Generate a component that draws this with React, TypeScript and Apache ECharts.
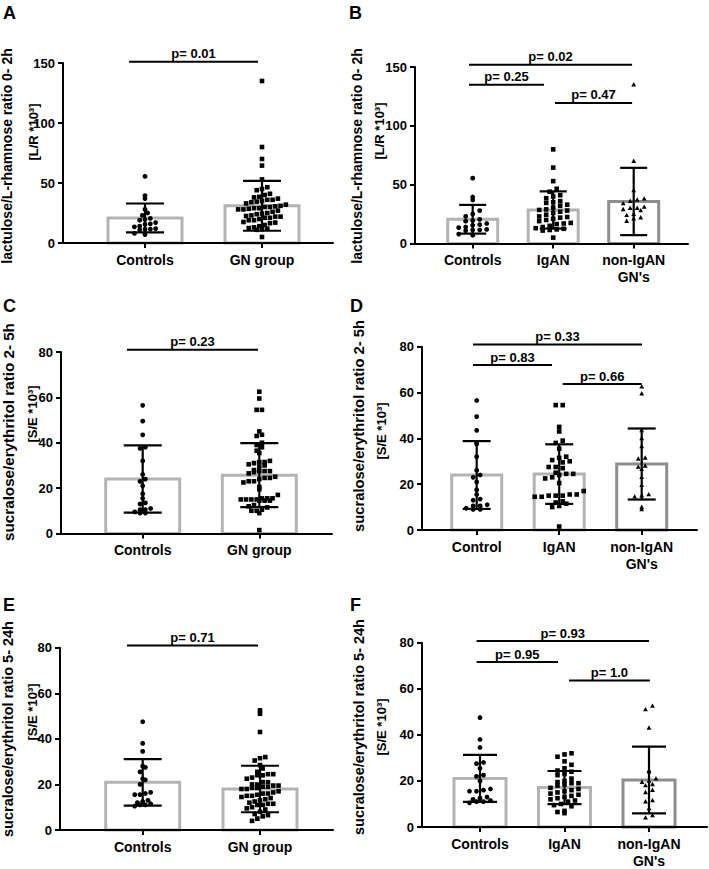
import React, { useEffect, useRef } from 'react';
import * as echarts from 'echarts';

// ---------------- data ----------------
// lactulose / L-rhamnose ratio 0-2h
const ctrlLR = [55.5, 39.5, 37, 28, 25, 23, 20.5, 19.5, 19, 17, 16, 15.5, 14, 13.5, 12, 11.5, 11.5, 11, 8, 7];
const igaLR = [80, 64.5, 53, 46.5, 44, 41, 40, 38.5, 36, 35, 34.5, 33, 32, 30.5, 29, 28.5, 28, 27, 26, 24.5, 23, 22.5, 22, 21, 20, 19, 17.5, 17, 16.5, 15, 14, 13, 12.5, 12, 11.5, 11, 5];
const nonLR = [135, 70, 45, 38, 37, 36, 34, 31, 30, 30, 29, 28, 25, 24, 22, 21, 19];
// sucralose / erythritol ratio 2-5h
const ctrlSE25 = [56.5, 49.5, 43.5, 38, 37.5, 32, 26, 24, 23, 21, 17.5, 15.5, 13.5, 13, 11, 10.5, 10.5, 9.5, 9, 9];
const igaSE25 = [54.5, 54.5, 45, 43, 39, 38, 35.5, 32, 31.5, 30.5, 30, 29.5, 27.5, 27.5, 27, 25, 24.5, 24.5, 24, 23, 22.5, 20.5, 17, 15.5, 15.5, 15, 15, 15, 14.5, 14.5, 12.5, 12, 11.5, 10.5, 10, 1.5];
const nonSE25 = [62.5, 59.5, 43.5, 40, 36.5, 31.5, 31, 28, 27.5, 26.5, 23, 19.5, 15.5, 15, 14.5, 10, 9];
// sucralose / erythritol ratio 5-24h
const ctrlSE524 = [47.5, 38, 34.5, 28, 27.5, 25.5, 22.5, 22, 20, 16.5, 16, 15.5, 15.5, 13, 12.5, 12, 11.5, 11, 11, 10.5];
const igaSE524 = [32, 31.5, 30.5, 28.5, 27, 25.5, 24.5, 24, 23, 22.5, 21, 20, 19.5, 19, 19, 18.5, 18, 17, 16.5, 16, 15.5, 15, 14.5, 14, 13.5, 13, 12.5, 12, 11.5, 11, 10, 9.5, 9, 7, 6.5, 6];
const nonSE524 = [52.5, 51, 43, 24.5, 24, 21, 20, 19.5, 18.5, 18, 16, 15, 11.5, 11, 8, 5, 4];

// bar heights (mean) and SD
const meanA = [20.9, 31.0]; const sdA = [12.0, 20.8];
const meanB = [20.6, 28.5, 35.7]; const sdB = [12.2, 15.8, 28.6];
const meanC = [24.0, 25.7]; const sdC = [14.8, 14.1];
const meanD = [24.0, 24.4, 28.8]; const sdD = [14.8, 13.0, 15.5];
const meanE = [20.9, 18.0]; const sdE = [10.2, 10.2];
const meanF = [21.1, 17.1, 20.4]; const sdF = [10.2, 7.2, 14.5];

// categories
const catsGN = ['Controls', 'GN group'];
const catsSub = ['Controls', 'IgAN', "non-IgAN\nGN's"];
const catsSubD = ['Control', 'IgAN', "non-IgAN\nGN's"];

// y tick labels
const ticksLR = [0, 50, 100, 150];
const ticksSE = [0, 20, 40, 60, 80];

// p-values and their levels
const pA = ['p= 0.01']; const pLevA = [151];
const pB = ['p= 0.02', 'p= 0.25', 'p= 0.47']; const pLevB = [152, 135, 119.5];
const pC = ['p= 0.23']; const pLevC = [81];
const pD = ['p= 0.33', 'p= 0.83', 'p= 0.66']; const pLevD = [81, 72, 63.7];
const pE = ['p= 0.71']; const pLevE = [81];
const pF = ['p= 0.93', 'p= 0.95', 'p= 1.0']; const pLevF = [80.7, 71.6, 63.6];

const titleLR = ['lactulose/L-rhamnose ratio 0- 2h', '[L/R *10³]'];
const titleSE25 = ['sucralose/erythritol ratio 2- 5h', '[S/E *10³]'];
const titleSE524 = ['sucralose/erythritol ratio 5- 24h', '[S/E *10³]'];

// ---------------- layout / style ----------------
const FONT = "'Liberation Sans', Arial, Helvetica, sans-serif";
const LIGHT = '#b3b3b3';
const DARK = '#8e8e8e';

type Shape = 'circle' | 'square' | 'triangle';
interface Panel {
  letter: string; letterPos: [number, number];
  left: number; right: number; top: number; bottom: number;
  catPx: number[]; names: string[]; ticks: number[];
  groups: number[][]; shapes: Shape[];
  means: number[]; sds: number[]; barColors: string[];
  barW: number; capW: number; spacing: number;
  pLabels: string[]; pLevels: number[]; pSpans: [number, number][];
  title: string[]; t1: [number, number, number]; t2: [number, number, number];
}

const panels: Panel[] = [
  {
    letter: 'A', letterPos: [3, 4], left: 63, right: 333, top: 63, bottom: 243,
    catPx: [145, 262], names: catsGN, ticks: ticksLR,
    groups: [ctrlLR, igaLR.concat(nonLR)], shapes: ['circle', 'square'],
    means: meanA, sds: sdA, barColors: [LIGHT, LIGHT], barW: 74, capW: 38, spacing: 5.3,
    pLabels: pA, pLevels: pLevA, pSpans: [[-0.137, 0.966]],
    title: titleLR, t1: [7, 156, 14], t2: [33, 132, 13],
  },
  {
    letter: 'B', letterPos: [349, 4], left: 415, right: 688, top: 67, bottom: 243.5,
    catPx: [472.7, 553, 633.7], names: catsSub, ticks: ticksLR,
    groups: [ctrlLR, igaLR, nonLR], shapes: ['circle', 'square', 'triangle'],
    means: meanB, sds: sdB, barColors: [LIGHT, LIGHT, DARK], barW: 50, capW: 27, spacing: 7,
    pLabels: pB, pLevels: pLevB, pSpans: [[-0.046, 1.98], [-0.046, 0.886], [1.022, 1.98]],
    title: titleLR, t1: [357, 156, 14], t2: [379, 131, 13],
  },
  {
    letter: 'C', letterPos: [3, 297], left: 61, right: 332, top: 352, bottom: 533.5,
    catPx: [142.7, 259.3], names: catsGN, ticks: ticksSE,
    groups: [ctrlSE25, igaSE25.concat(nonSE25)], shapes: ['circle', 'square'],
    means: meanC, sds: sdC, barColors: [LIGHT, LIGHT], barW: 74, capW: 38, spacing: 5.3,
    pLabels: pC, pLevels: pLevC, pSpans: [[-0.135, 0.989]],
    title: titleSE25, t1: [8, 432, 15.2], t2: [32, 414, 13],
  },
  {
    letter: 'D', letterPos: [350, 297], left: 422, right: 697, top: 346.7, bottom: 530,
    catPx: [476.7, 559.2, 641.7], names: catsSubD, ticks: ticksSE,
    groups: [ctrlSE25, igaSE25, nonSE25], shapes: ['circle', 'square', 'triangle'],
    means: meanD, sds: sdD, barColors: [LIGHT, LIGHT, DARK], barW: 50, capW: 28, spacing: 7,
    pLabels: pD, pLevels: pLevD, pSpans: [[-0.045, 2.004], [-0.045, 0.913], [1.042, 2.0]],
    title: titleSE25, t1: [359, 426, 14.8], t2: [381, 431, 13],
  },
  {
    letter: 'E', letterPos: [3, 596], left: 60, right: 333, top: 647.7, bottom: 830,
    catPx: [142.7, 260], names: catsGN, ticks: ticksSE,
    groups: [ctrlSE524, igaSE524.concat(nonSE524)], shapes: ['circle', 'square'],
    means: meanE, sds: sdE, barColors: [LIGHT, LIGHT], barW: 74, capW: 38, spacing: 5.3,
    pLabels: pE, pLevels: pLevE, pSpans: [[-0.134, 0.983]],
    title: titleSE524, t1: [8, 729, 14.5], t2: [32, 712, 13],
  },
  {
    letter: 'F', letterPos: [350, 596], left: 422, right: 707, top: 642.7, bottom: 829.3,
    catPx: [480, 564.7, 649], names: catsSub, ticks: ticksSE,
    groups: [ctrlSE524, igaSE524, nonSE524], shapes: ['circle', 'square', 'triangle'],
    means: meanF, sds: sdF, barColors: [LIGHT, LIGHT, DARK], barW: 52, capW: 34, spacing: 7,
    pLabels: pF, pLevels: pLevF, pSpans: [[-0.04, 2.0], [-0.04, 0.923], [1.053, 2.01]],
    title: titleSE524, t1: [359, 727, 14.5], t2: [381, 727, 13],
  },
];

// column-scatter layout: points that fall in the same row are spread sideways
function swarmOffsets(values: number[], pxPerUnit: number, rowH: number, spacing: number): number[] {
  const rows = new Map<number, number[]>();
  values.forEach((v, i) => {
    const r = Math.round((v * pxPerUnit) / rowH);
    if (!rows.has(r)) rows.set(r, []);
    rows.get(r)!.push(i);
  });
  const off = new Array(values.length).fill(0);
  rows.forEach((idxs) => {
    idxs.sort((a, b) => values[a] - values[b]);
    const n = idxs.length;
    idxs.forEach((idx, k) => {
      off[idx] = (k - (n - 1) / 2) * spacing;
    });
  });
  return off;
}

function buildOption() {
  const grid: any[] = [];
  const xAxis: any[] = [];
  const yAxis: any[] = [];
  const series: any[] = [];
  const graphic: any[] = [];
  const lineSt = { color: '#000', width: 2 };
  const labelSt = { color: '#000', fontFamily: FONT, fontWeight: 'bold' as const };

  panels.forEach((p, pi) => {
    const step = (p.catPx[p.catPx.length - 1] - p.catPx[0]) / (p.catPx.length - 1);
    const yMax = p.ticks[p.ticks.length - 1];
    const yStep = p.ticks[1] - p.ticks[0];
    const pxPerUnit = (p.bottom - p.top) / yMax;
    const idx = p.names.map((_, i) => i);

    grid.push({ left: p.left, top: p.top, width: p.right - p.left, height: p.bottom - p.top, containLabel: false });
    xAxis.push({
      gridIndex: pi, type: 'value', z: 10,
      min: (p.left - p.catPx[0]) / step, max: (p.right - p.catPx[0]) / step,
      axisLine: { show: true, onZero: false, lineStyle: lineSt },
      axisTick: { show: true, length: 5, lineStyle: lineSt, customValues: idx },
      axisLabel: {
        show: true, customValues: idx, margin: 8, fontSize: 14, lineHeight: 17, ...labelSt,
        formatter: (v: number) => p.names[Math.round(v)] ?? '',
      },
      splitLine: { show: false },
    });
    yAxis.push({
      gridIndex: pi, type: 'value', z: 10, min: 0, max: yMax, interval: yStep,
      axisLine: { show: true, onZero: false, lineStyle: lineSt },
      axisTick: { show: true, length: 5, lineStyle: lineSt },
      axisLabel: { show: true, margin: 8, fontSize: 13, ...labelSt },
      splitLine: { show: false },
    });

    // bars
    series.push({
      type: 'custom', xAxisIndex: pi, yAxisIndex: pi, silent: true, z: 2,
      data: p.means.map((m, i) => [i, m]),
      encode: { x: 0, y: 1 },
      renderItem: (params: any, api: any) => {
        const x = api.value(0); const m = api.value(1);
        const t = api.coord([x, m]); const b = api.coord([x, 0]);
        return {
          type: 'rect',
          shape: { x: t[0] - p.barW / 2, y: t[1], width: p.barW, height: b[1] - t[1] },
          style: { fill: '#fff', stroke: p.barColors[params.dataIndex], lineWidth: 3 },
        };
      },
    });

    // points
    p.groups.forEach((vals, gi) => {
      const off = swarmOffsets(vals, pxPerUnit, 6, p.spacing);
      const shape = p.shapes[gi];
      series.push({
        type: 'custom', xAxisIndex: pi, yAxisIndex: pi, silent: true, z: 3,
        data: vals.map((v, i) => [gi, v, off[i]]),
        encode: { x: 0, y: 1 },
        renderItem: (_params: any, api: any) => {
          const c = api.coord([api.value(0), api.value(1)]);
          const cx = c[0] + api.value(2); const cy = c[1];
          if (shape === 'circle') return { type: 'circle', shape: { cx, cy, r: 2.4 }, style: { fill: '#000' } };
          if (shape === 'square') return { type: 'rect', shape: { x: cx - 2.3, y: cy - 2.3, width: 4.6, height: 4.6 }, style: { fill: '#000' } };
          return { type: 'polygon', shape: { points: [[cx, cy - 2.6], [cx + 2.4, cy + 1.8], [cx - 2.4, cy + 1.8]] }, style: { fill: '#000' } };
        },
      });
    });

    // error bars (mean ± SD)
    series.push({
      type: 'custom', xAxisIndex: pi, yAxisIndex: pi, silent: true, z: 4,
      data: p.means.map((m, i) => [i, m, p.sds[i]]),
      encode: { x: 0, y: 1 },
      renderItem: (_params: any, api: any) => {
        const x = api.value(0); const m = api.value(1); const s = api.value(2);
        const hi = api.coord([x, m + s]); const lo = api.coord([x, Math.max(0, m - s)]);
        const st = { stroke: '#000', lineWidth: 2.2 };
        const w = p.capW / 2;
        return {
          type: 'group',
          children: [
            { type: 'line', shape: { x1: hi[0], y1: hi[1], x2: lo[0], y2: lo[1] }, style: st },
            { type: 'line', shape: { x1: hi[0] - w, y1: hi[1], x2: hi[0] + w, y2: hi[1] }, style: st },
            { type: 'line', shape: { x1: lo[0] - w, y1: lo[1], x2: lo[0] + w, y2: lo[1] }, style: st },
          ],
        };
      },
    });

    // significance brackets
    series.push({
      type: 'custom', xAxisIndex: pi, yAxisIndex: pi, silent: true, z: 5,
      data: p.pLevels.map((lv, i) => [p.pSpans[i][0], p.pSpans[i][1], lv, i]),
      encode: { x: [0, 1], y: 2 },
      renderItem: (_params: any, api: any) => {
        const a = api.coord([api.value(0), api.value(2)]);
        const b = api.coord([api.value(1), api.value(2)]);
        const label = p.pLabels[api.value(3)];
        return {
          type: 'group',
          children: [
            { type: 'line', shape: { x1: a[0], y1: a[1], x2: b[0], y2: b[1] }, style: { stroke: '#000', lineWidth: 2 } },
            {
              type: 'text', x: (a[0] + b[0]) / 2, y: a[1] - 8,
              style: {
                text: label, fill: '#000', font: `bold 13px ${FONT}`,
                align: 'center', verticalAlign: 'middle', textAlign: 'center', textVerticalAlign: 'middle',
              },
            },
          ],
        };
      },
    });

    // panel letter
    graphic.push({
      type: 'text', x: p.letterPos[0], y: p.letterPos[1],
      style: { text: p.letter, fill: '#000', font: `bold 18px ${FONT}`, align: 'left', verticalAlign: 'top', textAlign: 'left', textVerticalAlign: 'top' },
    });
    // y-axis titles
    [p.t1, p.t2].forEach((t, k) => {
      graphic.push({
        type: 'text', x: t[0], y: t[1], rotation: Math.PI / 2,
        style: {
          text: p.title[k], fill: '#000', font: `bold ${t[2]}px ${FONT}`,
          align: 'center', verticalAlign: 'middle', textAlign: 'center', textVerticalAlign: 'middle',
        },
      });
    });
  });

  return { animation: false, backgroundColor: '#fff', grid, xAxis, yAxis, series, graphic };
}

export default function App() {
  const ref = useRef<HTMLDivElement>(null);
  useEffect(() => {
    if (!ref.current) return;
    const chart = echarts.init(ref.current, undefined, { renderer: 'svg' });
    chart.setOption(buildOption() as any);
    return () => chart.dispose();
  }, []);
  return (
    <div
      ref={ref}
      style={{ position: 'absolute', left: 0, top: 0, width: 709, height: 869, background: '#fff' }}
    />
  );
}
